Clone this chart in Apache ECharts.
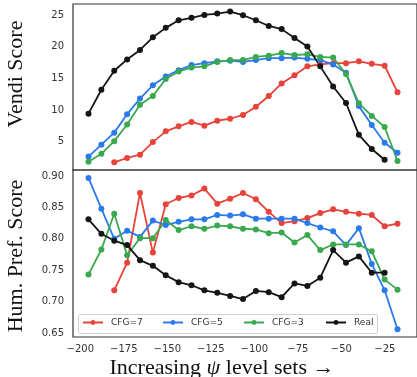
<!DOCTYPE html>
<html>
<head>
<meta charset="utf-8">
<script src="https://cdn.jsdelivr.net/npm/echarts@6/dist/echarts.min.js"></script>
<style>html,body{margin:0;padding:0;background:#fff}#c{width:417px;height:377px}</style>
</head>
<body>
<div id="c"></div>
<script>
// x positions (psi level sets)
const levels = [-195.3, -187.9, -180.5, -173.1, -165.7, -158.3, -150.9, -143.5, -136.1, -128.7, -121.3, -113.9, -106.5, -99.1, -91.7, -84.3, -76.9, -69.5, -62.1, -54.7, -47.3, -39.9, -32.5, -25.1, -17.7];
const xTicks = [-200, -175, -150, -125, -100, -75, -50, -25];
const vendiTicks = [5, 10, 15, 20, 25];
const prefTicks = [0.65, 0.70, 0.75, 0.80, 0.85, 0.90];
const seriesNames = ['CFG=7', 'CFG=5', 'CFG=3', 'Real'];

// Vendi score (top panel); null = no point
const vendiCFG7 = [null, null, 1.7, 2.4, 2.9, 4.9, 6.6, 7.4, 8.1, 7.5, 8.3, 8.6, 9.2, 10.5, 12.2, 14.2, 15.5, 16.9, 17.2, 17.4, 17.4, 17.7, 17.3, 17.0, 12.8];
const vendiCFG5 = [2.6, 4.5, 6.4, 9.3, 11.8, 13.9, 15.3, 16.3, 17.1, 17.4, 17.7, 17.8, 17.6, 17.9, 18.2, 18.2, 18.3, 18.1, 17.9, 17.2, 15.9, 10.6, 7.6, 4.8, 3.2];
const vendiCFG3 = [1.8, 3.05, 5.05, 7.7, 10.8, 12.2, 14.9, 16.1, 16.7, 16.9, 17.6, 17.9, 17.9, 18.4, 18.6, 19.0, 18.7, 18.8, 18.4, 18.3, 15.7, 11.05, 9.05, 7.3, 1.9];
const vendiReal = [9.4, 13.2, 16.2, 18.0, 19.5, 21.5, 23.0, 24.2, 24.6, 25.05, 25.26, 25.58, 25.0, 24.2, 23.3, 22.8, 21.4, 20.05, 16.9, 13.7, 11.1, 6.05, 3.8, 2.1, null];

// Human preference score (bottom panel)
const prefCFG7 = [null, null, 0.718, 0.762, 0.873, 0.778, 0.855, 0.865, 0.869, 0.880, 0.856, 0.864, 0.873, 0.863, 0.843, 0.825, 0.828, 0.833, 0.841, 0.847, 0.843, 0.840, 0.838, 0.820, 0.824];
const prefCFG5 = [0.897, 0.848, 0.800, 0.813, 0.803, 0.829, 0.822, 0.827, 0.831, 0.831, 0.838, 0.837, 0.839, 0.832, 0.832, 0.832, 0.832, 0.825, 0.818, 0.812, 0.790, 0.817, 0.760, 0.718, 0.656];
const prefCFG3 = [0.743, 0.783, 0.840, 0.774, 0.801, 0.801, 0.830, 0.814, 0.820, 0.816, 0.821, 0.820, 0.816, 0.815, 0.809, 0.810, 0.794, 0.806, 0.782, 0.791, 0.791, 0.791, 0.780, 0.735, 0.719];
const prefReal = [0.831, 0.808, 0.797, 0.790, 0.766, 0.757, 0.742, 0.731, 0.726, 0.718, 0.714, 0.709, 0.704, 0.717, 0.715, 0.707, 0.729, 0.725, 0.738, 0.782, 0.762, 0.772, 0.746, 0.746, null];

const colors = ['#e8433a', '#2a7aeb', '#39a84f', '#151515'];

function pairs(vals) {
  const out = [];
  levels.forEach((x, i) => { if (vals[i] !== null) out.push([x, vals[i]]); });
  return out;
}

const chart = echarts.init(document.getElementById('c'), null, {renderer: 'canvas'});
const tickFont = {fontFamily: 'DejaVu Sans', fontSize: 10, color: '#333'};
const frame = '#333';

function mkSeries(name, data, idx, color) {
  return {
    name: name, type: 'line', xAxisIndex: idx, yAxisIndex: idx,
    data: pairs(data), symbol: 'circle', symbolSize: 6,
    lineStyle: {width: 1.8, color: color}, itemStyle: {color: color},
    emphasis: {disabled: true}, animation: false
  };
}

const legends = [82, 162, 243, 325].map((l, i) => ({
  data: [seriesNames[i]], left: l, top: 318, padding: 0,
  itemWidth: 20, itemHeight: 6, itemGap: 0,
  textStyle: {fontFamily: 'DejaVu Sans', fontSize: 9, color: '#333', padding: [0, 0, 0, 3]},
  selectedMode: false
}));

const option = {
  animation: false,
  backgroundColor: '#fff',
  color: colors,
  grid: [
    {left: 73, top: 4, width: 350, height: 166, show: true, borderColor: frame, borderWidth: 1.2, backgroundColor: 'transparent'},
    {left: 73, top: 170, width: 350, height: 167, show: true, borderColor: frame, borderWidth: 1.2, backgroundColor: 'transparent'}
  ],
  xAxis: [0, 1].map(i => ({
    type: 'value', gridIndex: i, min: -204.2, max: -6.5,
    axisLine: {show: false}, axisTick: {show: false}, splitLine: {show: false},
    axisLabel: i === 0 ? {show: false} : Object.assign({
      customValues: xTicks, margin: 7,
      formatter: v => String(v).replace('-', '\u2212')
    }, tickFont)
  })),
  yAxis: [
    {type: 'value', gridIndex: 0, min: 0.48, max: 26.78,
     axisLine: {show: false}, axisTick: {show: false}, splitLine: {show: false},
     axisLabel: Object.assign({customValues: vendiTicks, margin: 9}, tickFont)},
    {type: 'value', gridIndex: 1, min: 0.6436, max: 0.9096,
     axisLine: {show: false}, axisTick: {show: false}, splitLine: {show: false},
     axisLabel: Object.assign({customValues: prefTicks, margin: 9, formatter: v => v.toFixed(2)}, tickFont)}
  ],
  legend: legends,
  graphic: [
    {type: 'rect', z: 3, shape: {x: 78.5, y: 314.5, width: 299, height: 19, r: 2},
     style: {fill: 'rgba(255,255,255,0.85)', stroke: '#d0d0d0', lineWidth: 1}},
    {type: 'text', x: 16, y: 74, rotation: Math.PI / 2,
     style: {text: 'Vendi Score', font: '22px "Liberation Serif"', fill: '#111', align: 'center', verticalAlign: 'middle'}},
    {type: 'text', x: 16, y: 256, rotation: Math.PI / 2,
     style: {text: 'Hum. Pref. Score', font: '22px "Liberation Serif"', fill: '#111', align: 'center', verticalAlign: 'middle'}}
  ],
  title: {
    text: '{a|Increasing }{b|\u03c8}{a| level sets \u2192}',
    left: 222, top: 357, textAlign: 'center', padding: 0,
    textStyle: {
      fontWeight: 'normal',
      rich: {
        a: {fontFamily: 'Liberation Serif', fontSize: 22, fontWeight: 'normal', color: '#111'},
        b: {fontFamily: 'Liberation Serif', fontSize: 22, fontStyle: 'italic', fontWeight: 'normal', color: '#111'}
      }
    }
  },
  series: [
    mkSeries('CFG=7', vendiCFG7, 0, colors[0]),
    mkSeries('CFG=5', vendiCFG5, 0, colors[1]),
    mkSeries('CFG=3', vendiCFG3, 0, colors[2]),
    mkSeries('Real', vendiReal, 0, colors[3]),
    mkSeries('CFG=7', prefCFG7, 1, colors[0]),
    mkSeries('CFG=5', prefCFG5, 1, colors[1]),
    mkSeries('CFG=3', prefCFG3, 1, colors[2]),
    mkSeries('Real', prefReal, 1, colors[3])
  ]
};
chart.setOption(option);
</script>
</body>
</html>
